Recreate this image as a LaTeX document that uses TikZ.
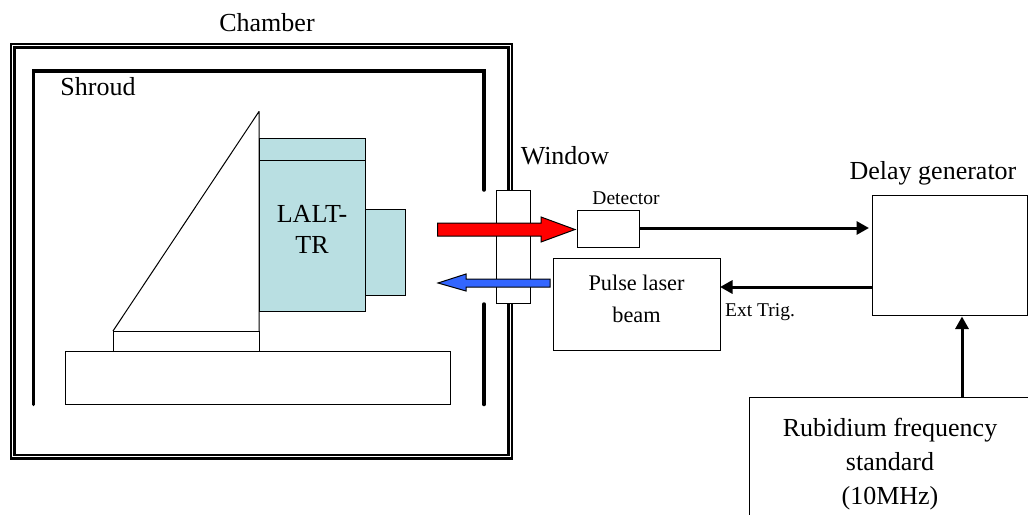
\documentclass[tikz,border=0pt]{standalone}
\usepackage{fontspec}
\setmainfont{Liberation Serif}
\usetikzlibrary{arrows.meta,calc}
\tikzset{
  big/.style={font=\fontsize{26}{31}\selectfont,align=center,inner sep=0pt},
  small/.style={font=\fontsize{19.5}{23}\selectfont,inner sep=0pt},
  box/.style={draw=black,line width=1pt,fill=white,inner sep=0pt,outer sep=0pt,anchor=north west},
  lalt/.style={box,fill=laltblue},
  wallthick/.style={draw=black,line width=2.5pt,miter limit=10},
  shroudline/.style={draw=black,line width=3.5pt,line cap=round},
  signal/.style={draw=black,line width=3pt,-{Triangle[length=12.5pt,width=13pt]}},
  blockarrow/.style={draw=black,line width=1pt,line join=miter},
}
\definecolor{laltblue}{HTML}{B9DFE2}
\definecolor{beamred}{HTML}{FF0000}
\definecolor{beamblue}{HTML}{3366FF}
\begin{document}
\begin{tikzpicture}[x=1pt,y=-1pt]
\useasboundingbox (0,0) rectangle (1028,514);
\clip (0,0) rectangle (1028,514);
\fill[white] (0,0) rectangle (1028,514);
% chamber walls
\draw[wallthick] (10.75,43.75) rectangle (511.75,458.25);
\draw[wallthick] (14.25,47.25) rectangle (508.25,454.75);
% shroud
\draw[shroudline] (484,190) -- (484,71) -- (33.5,71) -- (33.5,404.5);
\draw[shroudline] (484,304) -- (484,404.5);
% table and mount
\node[box,minimum width=385pt,minimum height=53pt] (table) at (65,351) {};
\node[box,minimum width=146pt,minimum height=20pt] (mountbase) at (113,331) {};
\draw[line width=1pt,line join=round] (mountbase.north west) -- (259,111.5) -- (mountbase.north east);
% instrument
\node[lalt,minimum width=40pt,minimum height=86pt] (optic) at (365,209) {};
\node[lalt,minimum width=106pt,minimum height=173pt,big] (laltbox) at (259,138) {};
\node[big] (lalttext) at (312,229) {LALT-\\TR};
\draw[line width=1pt] (259,160) -- (365,160);
% window
\node[box,minimum width=34pt,minimum height=113pt] (window) at (496,190) {};
% devices
\node[box,minimum width=62pt,minimum height=37pt] (detector) at (577,210) {};
\node[box,minimum width=167pt,minimum height=92pt] (pulse) at (553,258) {};
\node[big,font=\fontsize{22.3}{32}\selectfont] (pulsetext) at (636.5,299) {Pulse laser\\beam};
\node[box,minimum width=155.5pt,minimum height=120pt] (delay) at (872,195) {};
\node[box,minimum width=282pt,minimum height=134pt,big,font=\fontsize{26}{34}\selectfont] (rubidium) at (749,397) {Rubidium frequency\\standard\\(10MHz)};
% beams
\fill[beamred] (437.5,223) -- (541,223) -- (541,217) -- (575,229.5) -- (541,242) -- (541,236) -- (437.5,236) -- cycle;
\draw[blockarrow] (437.5,223) -- (541,223) -- (541,217) -- (575,229.5) -- (541,242) -- (541,236) -- (437.5,236) -- cycle;
\fill[beamblue] (550,279) -- (466,279) -- (466,274) -- (438,283) -- (466,291) -- (466,287) -- (550,287) -- cycle;
\draw[blockarrow] (550,279) -- (466,279) -- (466,274) -- (438,283) -- (466,291) -- (466,287) -- (550,287) -- cycle;
% signals
\draw[signal,shorten >=3pt] (detector.east |- 0,228) -- (delay.west |- 0,228);
\draw[signal] (delay.west |- 0,287) -- (pulse.east |- 0,287);
\draw[signal,shorten >=1.5pt] (rubidium.north -| 962,0) -- (delay.south -| 962,0);
% labels
\node[big] (chamberlabel) at (267,23) {Chamber};
\node[big] (shroudlabel) at (98,87) {Shroud};
\node[big] (windowlabel) at (565,156) {Window};
\node[big] (delaylabel) at (933,173.5) {Delay generator};
\node[small] (detectorlabel) at (626,198) {Detector};
\node[small] (exttrig) at (760,312) {Ext Trig.};
\end{tikzpicture}
\end{document}
